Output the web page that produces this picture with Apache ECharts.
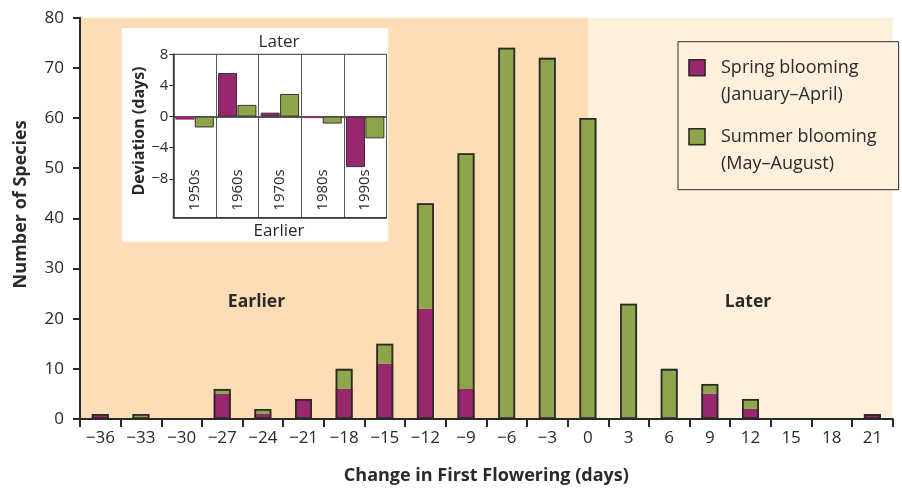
<!DOCTYPE html>
<html>
<head>
<meta charset="utf-8">
<script src="https://cdn.jsdelivr.net/npm/echarts@6/dist/echarts.min.js"></script>
<style>
html,body{margin:0;padding:0;background:#ffffff;}
#chart{width:902px;height:490px;}
</style>
</head>
<body>
<div id="chart"></div>
<script>
// ---- Main histogram data ----
const categories = ['−36','−33','−30','−27','−24','−21','−18','−15','−12','−9','−6','−3','0','3','6','9','12','15','18','21'];
const springCounts = [1,0,0,5,1,4,6,11,22,6,0,0,0,0,0,5,2,0,0,1];
const summerCounts = [0,1,0,1,1,0,4,4,21,47,74,72,60,23,10,2,2,0,0,0];
const yTicks = [0,10,20,30,40,50,60,70,80];

// ---- Inset data ----
const decades = ['1950s','1960s','1970s','1980s','1990s'];
const springDeviation = [-0.4,5.6,0.5,-0.2,-6.5];
const summerDeviation = [-1.4,1.5,2.9,-0.9,-2.8];
const insetTicks = [8,4,0,-4,-8];

// shaded regions on a hidden value axis (days)
const earlierRange = [-37.5, 0];
const laterRange = [0, 22.5];

const PURPLE = '#98276d';
const GREEN = '#8fa54b';
const DARK = '#2a2a2a';
const FONT = 'Open Sans';

const totals = springCounts.map((s, i) => (s + summerCounts[i]) || '-');

function minus(v){ return v < 0 ? '−' + (-v) : String(v); }

function legendIcon(color){
  const svg = "<svg xmlns='http://www.w3.org/2000/svg' width='28' height='46'><rect x='1' y='1' width='16' height='16' fill='" + color + "' stroke='#2a2a2a' stroke-width='1.6'/></svg>";
  return 'image://data:image/svg+xml;utf8,' + encodeURIComponent(svg);
}

const chart = echarts.init(document.getElementById('chart'), null, {renderer:'canvas'});

const option = {
  animation: false,
  textStyle: {fontFamily: FONT},
  grid: [
    {left: 80, right: 9.3, top: 17.7, bottom: 69.5, containLabel: false},
    {left: 173.3, top: 54.3, width: 213.2, height: 163.4, show: true, borderColor: '#333', borderWidth: 1, backgroundColor: 'transparent', z: 4}
  ],
  xAxis: [
    {
      type: 'category', gridIndex: 0, data: categories, z: 5,
      name: 'Change in First Flowering (days)', nameLocation: 'middle', nameGap: 48,
      nameTextStyle: {fontFamily: FONT, fontWeight: 'bold', fontSize: 18, color: DARK},
      axisLine: {onZero: false, lineStyle: {color: DARK, width: 2}},
      axisTick: {show: true, length: 8, interval: 0, lineStyle: {color: DARK, width: 2}},
      axisLabel: {interval: 0, margin: 11, fontSize: 17, color: DARK, fontFamily: FONT},
      splitLine: {show: false}
    },
    {
      type: 'value', gridIndex: 0, min: earlierRange[0], max: laterRange[1], show: false
    },
    {
      type: 'category', gridIndex: 1, data: decades, z: 7,
      axisLine: {onZero: false, lineStyle: {color: '#333', width: 1.5}},
      axisTick: {show: false},
      axisLabel: {inside: true, rotate: 90, margin: 7, fontSize: 15, color: DARK, fontFamily: FONT, interval: 0},
      splitLine: {show: true, interval: 0, lineStyle: {color: '#555', width: 1}}
    }
  ],
  yAxis: [
    {
      type: 'value', gridIndex: 0, min: 0, max: 80, interval: 10, z: 5,
      name: 'Number of Species', nameLocation: 'middle', nameGap: 50,
      nameTextStyle: {fontFamily: FONT, fontWeight: 'bold', fontSize: 18, color: DARK, padding: [0,0,0,28]},
      axisLine: {show: true, onZero: false, lineStyle: {color: DARK, width: 2}},
      axisTick: {show: true, length: 7, lineStyle: {color: DARK, width: 2}},
      axisLabel: {margin: 16, fontSize: 17, color: DARK, fontFamily: FONT},
      splitLine: {show: false}
    },
    {
      type: 'value', gridIndex: 1, min: -13, max: 8, z: 7,
      name: 'Deviation (days)', nameLocation: 'middle', nameGap: 25,
      nameTextStyle: {fontFamily: FONT, fontWeight: 'bold', fontSize: 16, color: DARK, padding: [0,0,0,10]},
      axisLine: {show: true, onZero: false, lineStyle: {color: '#333', width: 1.5}},
      axisTick: {show: true, length: 4, customValues: insetTicks, lineStyle: {color: '#333'}},
      axisLabel: {customValues: insetTicks, formatter: minus, margin: 5, fontSize: 15, color: DARK, fontFamily: FONT},
      splitLine: {show: false}
    }
  ],
  legend: {
    orient: 'vertical', left: 678, top: 41.7,
    padding: [13, 22, 12, 10],
    itemGap: 15, itemWidth: 28, itemHeight: 46,
    borderColor: DARK, borderWidth: 1, backgroundColor: '#fef0dc',
    formatter: function(name){
      return name === 'Spring blooming' ? 'Spring blooming\n(January–April)' : 'Summer blooming\n(May–August)';
    },
    textStyle: {fontFamily: FONT, fontSize: 18, color: DARK, lineHeight: 27, padding: [0,0,0,0]},
    selectedMode: false,
    z: 6
  },
  graphic: [
    {type: 'rect', z: 3, shape: {x: 121.7, y: 28.3, width: 266.5, height: 213.4}, style: {fill: '#ffffff'}},
    {type: 'text', z: 8, x: 279, y: 41.7, style: {text: 'Later', font: '17px "Open Sans"', fill: DARK, align: 'center', verticalAlign: 'middle'}},
    {type: 'text', z: 8, x: 279, y: 231, style: {text: 'Earlier', font: '17px "Open Sans"', fill: DARK, align: 'center', verticalAlign: 'middle'}},
    {type: 'text', z: 8, x: 256.5, y: 302.5, style: {text: 'Earlier', font: 'bold 17.5px "Open Sans"', fill: DARK, align: 'center', verticalAlign: 'middle'}},
    {type: 'text', z: 8, x: 748, y: 302.5, style: {text: 'Later', font: 'bold 17.5px "Open Sans"', fill: DARK, align: 'center', verticalAlign: 'middle'}}
  ],
  series: [
    {
      type: 'line', xAxisIndex: 1, yAxisIndex: 0, data: [], z: 1, silent: true,
      markArea: {
        silent: true,
        data: [
          [{xAxis: earlierRange[0], yAxis: 0, itemStyle: {color: '#fedcb6'}}, {xAxis: earlierRange[1], yAxis: 80}],
          [{xAxis: laterRange[0], yAxis: 0, itemStyle: {color: '#fef0dc'}}, {xAxis: laterRange[1], yAxis: 80}]
        ]
      }
    },
    {
      name: 'Spring blooming', type: 'bar', xAxisIndex: 0, yAxisIndex: 0, stack: 'total',
      data: springCounts, barWidth: 17, barGap: '-100%', z: 2,
      itemStyle: {color: PURPLE, borderWidth: 0}
    },
    {
      name: 'Summer blooming', type: 'bar', xAxisIndex: 0, yAxisIndex: 0, stack: 'total',
      data: summerCounts, barWidth: 17, barGap: '-100%', z: 2,
      itemStyle: {color: GREEN, borderWidth: 0}
    },
    {
      name: 'outline', type: 'bar', xAxisIndex: 0, yAxisIndex: 0,
      data: totals, barWidth: 17, barGap: '-100%', z: 3, silent: true,
      itemStyle: {color: 'rgba(0,0,0,0)', borderColor: DARK, borderWidth: 1.8}
    },
    {
      name: 'Spring inset', type: 'bar', xAxisIndex: 2, yAxisIndex: 1,
      data: springDeviation.map(v => ({value: v, itemStyle: Math.abs(v) < 0.45 ? {borderWidth: 0} : {}})),
      barWidth: 19, barGap: '2%', z: 6,
      itemStyle: {color: PURPLE, borderColor: '#333', borderWidth: 1},
      markLine: {
        silent: true, symbol: 'none', label: {show: false},
        lineStyle: {color: '#222', width: 1.5, type: 'solid'},
        data: [{yAxis: 0}]
      }
    },
    {
      name: 'Summer inset', type: 'bar', xAxisIndex: 2, yAxisIndex: 1,
      data: summerDeviation, barWidth: 19, barGap: '2%', z: 6,
      itemStyle: {color: GREEN, borderColor: '#333', borderWidth: 1}
    }
  ]
};

option.legend.data = [
  {name: 'Spring blooming', icon: legendIcon(PURPLE)},
  {name: 'Summer blooming', icon: legendIcon(GREEN)}
];

chart.setOption(option);
</script>
</body>
</html>
